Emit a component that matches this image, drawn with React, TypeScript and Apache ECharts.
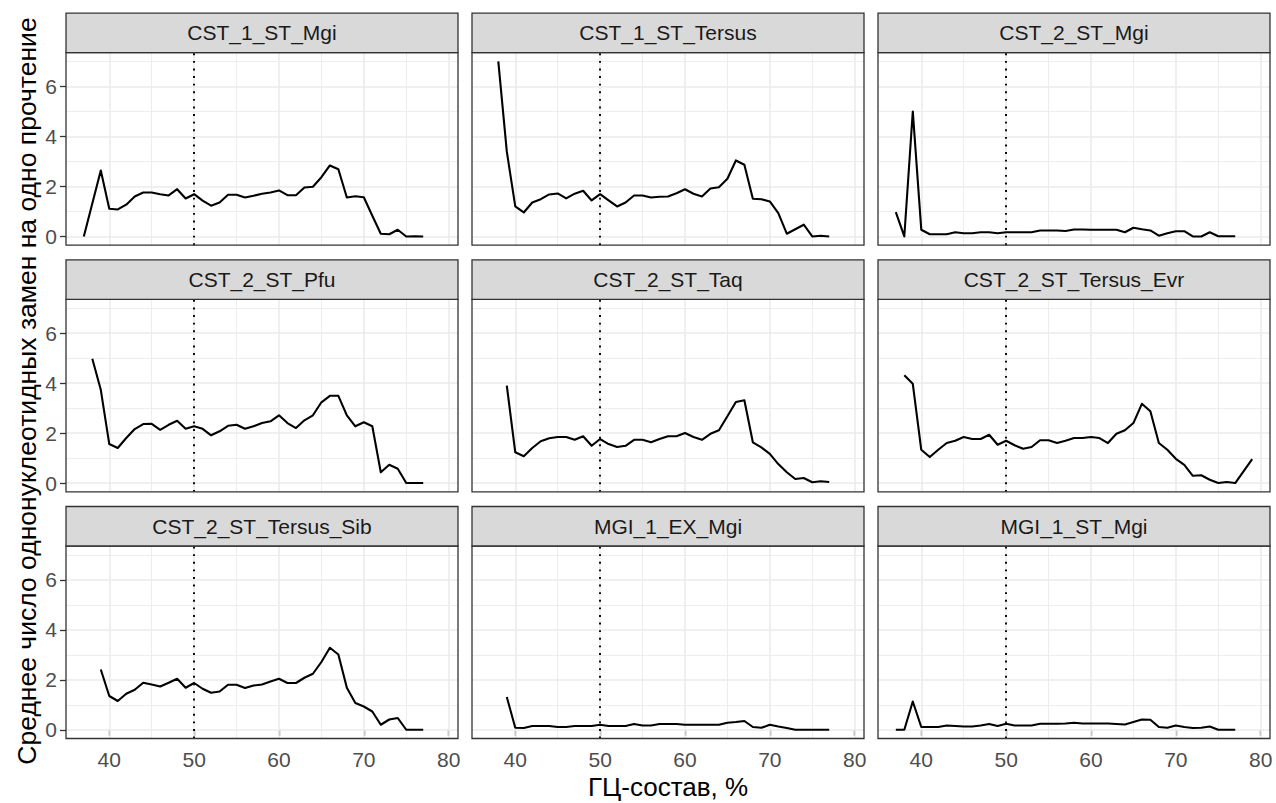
import { useEffect, useRef } from "react";
import * as echarts from "echarts";

// GC content (%) bins shared by all samples
const gcPercent = [
  37, 38, 39, 40, 41, 42, 43, 44, 45, 46, 47, 48, 49, 50, 51, 52, 53, 54, 55, 56, 57, 58,
  59, 60, 61, 62, 63, 64, 65, 66, 67, 68, 69, 70, 71, 72, 73, 74, 75, 76, 77, 78, 79,
];

const xTicks = [40, 50, 60, 70, 80];
const xMinor = [45, 55, 65, 75];
const yTicks = [0, 2, 4, 6];
const yMinor = [1, 3, 5, 7];
const gcReference = 50;

const sampleNames = [
  "CST_1_ST_Mgi",
  "CST_1_ST_Tersus",
  "CST_2_ST_Mgi",
  "CST_2_ST_Pfu",
  "CST_2_ST_Taq",
  "CST_2_ST_Tersus_Evr",
  "CST_2_ST_Tersus_Sib",
  "MGI_1_EX_Mgi",
  "MGI_1_ST_Mgi",
];

// Mean SNV count per read, aligned with gcPercent (null = no reads in that bin)
const cst1StMgi = [
  0, null, 2.64, 1.11, 1.08, 1.27, 1.6, 1.76, 1.76, 1.69, 1.64, 1.89, 1.52, 1.69, 1.43, 1.23,
  1.36, 1.67, 1.67, 1.56, 1.63, 1.71, 1.76, 1.84, 1.65, 1.65, 1.96, 1.99, 2.37, 2.84, 2.69,
  1.56, 1.61, 1.57, 0.83, 0.11, 0.09, 0.27, 0, 0.01, 0,
];
const cst1StTersus = [
  null, 7.0, 3.4, 1.2, 0.96, 1.36, 1.49, 1.68, 1.72, 1.52, 1.71, 1.83, 1.44, 1.69, 1.44, 1.2,
  1.36, 1.64, 1.64, 1.56, 1.59, 1.6, 1.73, 1.89, 1.71, 1.6, 1.92, 1.97, 2.31, 3.04, 2.87,
  1.51, 1.49, 1.4, 0.93, 0.11, 0.29, 0.47, 0, 0.03, 0,
];
const cst2StMgi = [
  0.97, 0, 5.0, 0.27, 0.09, 0.09, 0.09, 0.17, 0.13, 0.13, 0.17, 0.17, 0.13, 0.17, 0.17, 0.17,
  0.17, 0.24, 0.24, 0.24, 0.22, 0.28, 0.28, 0.27, 0.27, 0.27, 0.27, 0.17, 0.35, 0.29, 0.24,
  0.03, 0.13, 0.21, 0.21, 0, 0, 0.17, 0.01, 0.01, 0.01,
];
const cst2StPfu = [
  null, 4.97, 3.73, 1.56, 1.4, 1.8, 2.16, 2.36, 2.37, 2.13, 2.33, 2.49, 2.17, 2.27, 2.17, 1.91,
  2.07, 2.29, 2.33, 2.17, 2.27, 2.4, 2.47, 2.71, 2.4, 2.2, 2.51, 2.71, 3.23, 3.49, 3.49,
  2.71, 2.27, 2.43, 2.27, 0.43, 0.73, 0.57, 0, 0, 0,
];
const cst2StTaq = [
  null, null, 3.9, 1.23, 1.07, 1.4, 1.67, 1.79, 1.84, 1.84, 1.73, 1.87, 1.49, 1.76, 1.56, 1.44,
  1.49, 1.73, 1.73, 1.63, 1.76, 1.87, 1.87, 2.0, 1.84, 1.73, 1.97, 2.11, 2.67, 3.24, 3.31,
  1.63, 1.43, 1.17, 0.76, 0.43, 0.16, 0.2, 0.03, 0.07, 0.04,
];
const cst2StTersusEvr = [
  null, 4.31, 3.97, 1.33, 1.04, 1.33, 1.6, 1.69, 1.84, 1.76, 1.76, 1.93, 1.53, 1.69, 1.51, 1.37,
  1.44, 1.71, 1.71, 1.6, 1.69, 1.8, 1.8, 1.84, 1.8, 1.6, 1.97, 2.11, 2.4, 3.17, 2.87,
  1.6, 1.33, 0.97, 0.73, 0.29, 0.31, 0.13, 0, 0.04, 0, null, 0.96,
];
const cst2StTersusSib = [
  null, null, 2.41, 1.35, 1.15, 1.44, 1.6, 1.88, 1.81, 1.73, 1.88, 2.04, 1.68, 1.87, 1.64, 1.48,
  1.53, 1.8, 1.8, 1.67, 1.77, 1.81, 1.93, 2.04, 1.87, 1.87, 2.08, 2.24, 2.71, 3.28, 3.01,
  1.68, 1.07, 0.93, 0.73, 0.2, 0.41, 0.47, 0, 0, 0,
];
const mgi1ExMgi = [
  null, null, 1.31, 0.08, 0.07, 0.15, 0.15, 0.15, 0.11, 0.11, 0.15, 0.15, 0.15, 0.2, 0.15, 0.15,
  0.15, 0.23, 0.17, 0.17, 0.23, 0.23, 0.23, 0.2, 0.2, 0.2, 0.2, 0.2, 0.28, 0.31, 0.35,
  0.11, 0.08, 0.2, 0.13, 0.07, 0, 0, 0, 0, 0,
];
const mgi1StMgi = [
  0, 0, 1.13, 0.11, 0.11, 0.11, 0.17, 0.15, 0.13, 0.13, 0.17, 0.23, 0.15, 0.24, 0.17, 0.17,
  0.17, 0.24, 0.24, 0.24, 0.25, 0.28, 0.25, 0.25, 0.25, 0.25, 0.23, 0.21, 0.31, 0.41, 0.4,
  0.11, 0.08, 0.17, 0.11, 0.07, 0.08, 0.13, 0, 0, 0,
];

const sampleValues = [
  cst1StMgi,
  cst1StTersus,
  cst2StMgi,
  cst2StPfu,
  cst2StTaq,
  cst2StTersusEvr,
  cst2StTersusSib,
  mgi1ExMgi,
  mgi1StMgi,
];

// Facet layout (pixels)
const FONT = '"Liberation Sans", Arial, sans-serif';
const COL_LEFT = [66, 472, 878];
const ROW_TOP = [52.7, 299.3, 546];
const PANEL_W = 392;
const PANEL_H = 192.5;
const STRIP_H = 39.5;
const X_RANGE = [34.9, 81.1];
const Y_RANGE = [-0.35, 7.35];

function buildOption() {
  const grid: any[] = [];
  const xAxis: any[] = [];
  const yAxis: any[] = [];
  const series: any[] = [];
  const elements: any[] = [];

  sampleNames.forEach((name, i) => {
    const col = i % 3;
    const row = Math.floor(i / 3);
    const left = COL_LEFT[col];
    const top = ROW_TOP[row];
    const isBottom = row === 2;
    const isLeft = col === 0;

    grid.push({
      left,
      top,
      width: PANEL_W,
      height: PANEL_H,
      show: true,
      backgroundColor: "#FFFFFF",
      borderWidth: 0,
    });

    xAxis.push({
      type: "value",
      gridIndex: i,
      min: X_RANGE[0],
      max: X_RANGE[1],
      splitLine: { show: false },
      axisLine: { show: false },
      axisTick: {
        show: isBottom,
        customValues: xTicks,
        length: 6,
        lineStyle: { color: "#333333", width: 1.3 },
      },
      axisLabel: {
        show: isBottom,
        customValues: xTicks,
        color: "#4D4D4D",
        fontSize: 21,
        fontFamily: FONT,
        margin: 10,
      },
    });

    yAxis.push({
      type: "value",
      gridIndex: i,
      min: Y_RANGE[0],
      max: Y_RANGE[1],
      splitLine: { show: false },
      axisLine: { show: false },
      axisTick: {
        show: isLeft,
        customValues: yTicks,
        length: 6,
        lineStyle: { color: "#333333", width: 1.3 },
      },
      axisLabel: {
        show: isLeft,
        customValues: yTicks,
        color: "#4D4D4D",
        fontSize: 21,
        fontFamily: FONT,
        margin: 9,
      },
    });

    // background grid lines (major + minor)
    const major = { color: "#EBEBEB", width: 1.6, type: "solid" };
    const minor = { color: "#EBEBEB", width: 0.9, type: "solid" };
    series.push({
      type: "line",
      xAxisIndex: i,
      yAxisIndex: i,
      data: [],
      silent: true,
      z: 1,
      markLine: {
        silent: true,
        z: 1,
        symbol: ["none", "none"],
        label: { show: false },
        emphasis: { disabled: true },
        animation: false,
        data: [
          ...xMinor.map((v) => ({ xAxis: v, lineStyle: minor })),
          ...yMinor.map((v) => ({ yAxis: v, lineStyle: minor })),
          ...xTicks.map((v) => ({ xAxis: v, lineStyle: major })),
          ...yTicks.map((v) => ({ yAxis: v, lineStyle: major })),
        ],
      },
    });

    const values = sampleValues[i];
    const points: [number, number][] = [];
    values.forEach((v, k) => {
      if (v !== null && v !== undefined) points.push([gcPercent[k], v as number]);
    });

    series.push({
      type: "line",
      name,
      xAxisIndex: i,
      yAxisIndex: i,
      data: points,
      symbol: "none",
      showSymbol: false,
      silent: true,
      z: 3,
      lineStyle: { color: "#000000", width: 2.1, join: "round" },
      markLine: {
        silent: true,
        z: 4,
        symbol: ["none", "none"],
        label: { show: false },
        emphasis: { disabled: true },
        animation: false,
        lineStyle: { color: "#000000", width: 1.9, type: [1.9, 5.7] },
        data: [{ xAxis: gcReference }],
      },
    });

    // panel border
    elements.push({
      type: "rect",
      z: 20,
      silent: true,
      shape: { x: left, y: top, width: PANEL_W, height: PANEL_H },
      style: { fill: "none", stroke: "#333333", lineWidth: 1.3 },
    });
    // facet strip
    elements.push({
      type: "rect",
      z: 20,
      silent: true,
      shape: { x: left, y: top - STRIP_H, width: PANEL_W, height: STRIP_H },
      style: { fill: "#D9D9D9", stroke: "#333333", lineWidth: 1.3 },
    });
    elements.push({
      type: "text",
      z: 21,
      silent: true,
      x: left + PANEL_W / 2,
      y: top - STRIP_H / 2,
      style: {
        text: name,
        fill: "#1A1A1A",
        font: `21px ${FONT}`,
        align: "center",
        verticalAlign: "middle",
      },
    });
  });

  // axis titles
  elements.push({
    type: "text",
    z: 21,
    silent: true,
    x: (COL_LEFT[0] + COL_LEFT[2] + PANEL_W) / 2,
    y: 787,
    style: {
      text: "ГЦ-состав, %",
      fill: "#000000",
      font: `26px ${FONT}`,
      align: "center",
      verticalAlign: "middle",
    },
  });
  elements.push({
    type: "text",
    z: 21,
    silent: true,
    x: 27,
    y: 391,
    rotation: Math.PI / 2,
    style: {
      text: "Среднее число однонуклеотидных замен на одно прочтение",
      fill: "#000000",
      font: `26.5px ${FONT}`,
      align: "center",
      verticalAlign: "middle",
    },
  });

  return {
    animation: false,
    backgroundColor: "#FFFFFF",
    grid,
    xAxis,
    yAxis,
    series,
    graphic: { elements },
  };
}

export default function App() {
  const ref = useRef<HTMLDivElement>(null);

  useEffect(() => {
    if (!ref.current) return;
    const chart = echarts.init(ref.current, null, { renderer: "svg" });
    chart.setOption(buildOption());
    return () => chart.dispose();
  }, []);

  return (
    <div
      ref={ref}
      style={{ position: "fixed", left: 0, top: 0, width: 1276, height: 803, background: "#FFFFFF" }}
    />
  );
}
